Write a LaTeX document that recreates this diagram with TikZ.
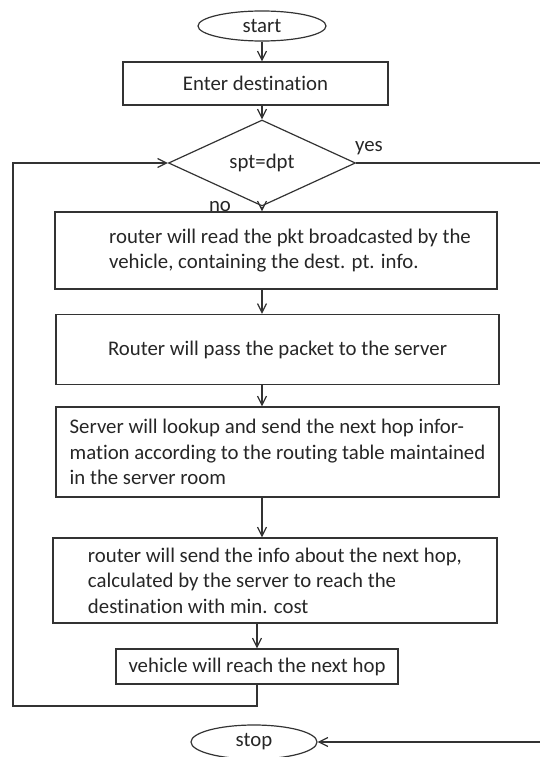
\documentclass[tikz,border=0pt]{standalone}
\usepackage{fontspec}
\setmainfont{Carlito}[Ligatures=NoCommon]
\usetikzlibrary{arrows.meta,shapes.geometric}

\begin{document}
\begin{tikzpicture}[
  x=1pt,y=-1pt,
  >={Straight Barb[length=9pt,width=9pt]},
  font=\fontsize{20.8}{25.5}\selectfont,
  every node/.style={text=black!85},
  block/.style={draw=black!80,line width=1.2pt,inner sep=0pt,align=left,
    minimum width=#1},
  term/.style={draw=black!80,line width=1.2pt,ellipse,inner sep=0pt,
    minimum width=128pt,minimum height=30pt},
  decide/.style={draw=black!80,line width=1.2pt,diamond,inner sep=0pt,
    minimum width=187pt,minimum height=86pt},
  sig/.style={->,draw=black!80,line width=1.2pt},
  lab/.style={inner sep=0pt}]

  \useasboundingbox (0,0) rectangle (540,757);

  % terminals and steps
  \node[term] (start) at (262,26) {start};
  \node[block=265pt,minimum height=43pt] (enter) at (255.5,83.5) {Enter destination};
  \node[decide] (diam) at (262,163) {spt=dpt};

  \node[block=442pt,minimum height=77pt] (read) at (276,250.5)
    {\hspace*{28pt}router will read the pkt broadcasted by the\\
     \hspace*{28pt}vehicle, containing the dest. pt. info.};
  \node[block=443pt,minimum height=70pt] (pass) at (277.5,349.5)
    {Router will pass the packet to the server};
  \node[block=443pt,minimum height=90pt] (lookup) at (277.5,452)
    {Server will lookup and send the next hop infor-\\
     mation according to the routing table maintained\\
     in the server room};
  \node[block=444pt,minimum height=85pt] (send) at (275,580.5)
    {router will send the info about the next hop,\\
     calculated by the server to reach the\\
     destination with min. cost};
  \node[block=282pt,minimum height=35pt] (reach) at (257,666.5)
    {vehicle will reach the next hop};
  \node[term,minimum width=126pt,minimum height=34pt] (stop) at (254,742) {stop};

  % main flow
  \draw[sig] (start.south) -- (start.south |- enter.north);
  \draw[sig] (diam.north |- enter.south) -- (diam.north);
  \draw[sig] (diam.south) -- (diam.south |- read.north);
  \node[lab] (no) at (220,207) {no};
  \draw[sig] (diam.south |- read.south) -- (diam.south |- pass.north);
  \draw[sig] (diam.south |- pass.south) -- (diam.south |- lookup.north);
  \draw[sig] (diam.south |- lookup.south) -- (diam.south |- send.north);
  \draw[sig] (reach.north |- send.south) -- (reach.north);

  % loop back to the test
  \coordinate (loopb) at (13,706);
  \draw[sig] (reach.south) -- (reach.south |- loopb) -- (loopb)
    -- (loopb |- diam.west) -- (diam.west);

  % yes branch to stop
  \coordinate (yesc) at (541,163);
  \node[lab] (yes) at (369,148) {yes};
  \draw[sig] (diam.east) -- (yesc) -- (yesc |- stop.east) -- (stop.east);
\end{tikzpicture}
\end{document}
